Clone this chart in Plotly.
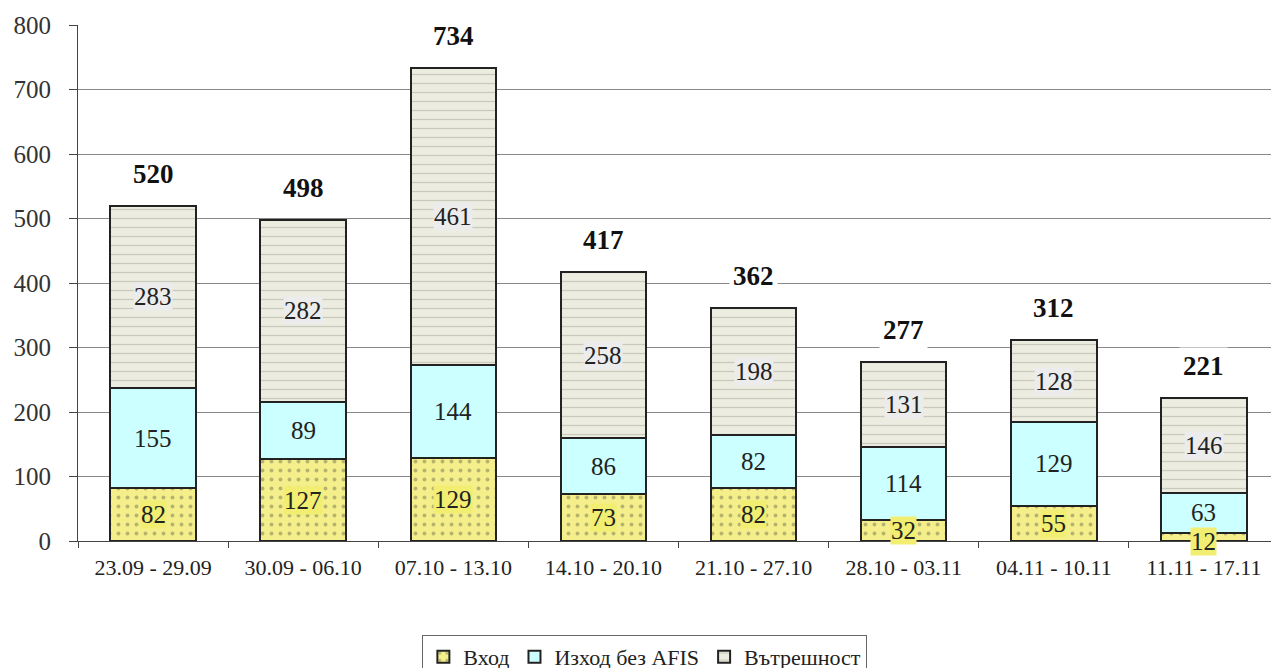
import plotly.graph_objects as go

categories = ["23.09 - 29.09", "30.09 - 06.10", "07.10 - 13.10", "14.10 - 20.10",
              "21.10 - 27.10", "28.10 - 03.11", "04.11 - 10.11", "11.11 - 17.11"]
vhod = [82, 127, 129, 73, 82, 32, 55, 12]
izhod = [155, 89, 144, 86, 82, 114, 129, 63]
vatr = [283, 282, 461, 258, 198, 131, 128, 146]
totals = [520, 498, 734, 417, 362, 277, 312, 221]
y_ticks = [0, 100, 200, 300, 400, 500, 600, 700, 800]

series = [
    ("Вход", vhod, "#f4ef8a", ".", "#777755", "#f1ee72"),
    ("Изход без AFIS", izhod, "#ccffff", "", "#000000", "#ccffff"),
    ("Вътрешност", vatr, "#ecece0", "-", "#a8a898", "#ececec"),
]

FONT = "Liberation Serif, Times New Roman, serif"
fig = go.Figure()
for name, vals, col, shape, fg, lblbg in series:
    fig.add_trace(go.Bar(
        name=name, x=categories, y=vals,
        marker=dict(color=col, line=dict(color="#222222", width=2),
                    pattern=dict(shape=shape, fgcolor=fg, bgcolor=col,
                                 size=9, solidity=0.15) if shape else None),
        width=0.57,
    ))

annotations = []
base = [0] * len(categories)
for name, vals, col, shape, fg, lblbg in series:
    for i, v in enumerate(vals):
        ypos = base[i] + v / 2 if v >= 20 else base[i]
        annotations.append(dict(
            x=categories[i], y=ypos, text=str(v), showarrow=False,
            font=dict(family=FONT, size=25, color="#222222"),
            bgcolor=lblbg, xref="x", yref="y", borderpad=0))
        base[i] += v
for i, t in enumerate(totals):
    annotations.append(dict(
        x=categories[i], y=t, text="<b>%d</b>" % t, showarrow=False, yshift=32,
        font=dict(family=FONT, size=27, color="#111111"),
        bgcolor="white", borderpad=3, xref="x", yref="y"))

fig.update_layout(
    barmode="stack",
    width=1271, height=700,
    margin=dict(l=70, r=0, t=17, b=167),
    plot_bgcolor="white", paper_bgcolor="white",
    font=dict(family=FONT, size=18, color="#222222"),
    showlegend=True,
    legend=dict(orientation="h", x=0.472, xanchor="center", y=-0.182, yanchor="top",
                bordercolor="#666666", borderwidth=1, font=dict(family=FONT, size=22),
                itemwidth=30, traceorder="normal"),
    annotations=annotations,
)
fig.update_xaxes(showline=True, linecolor="#444444", linewidth=1,
                 ticks="outside", tickson="boundaries", ticklen=6, tickcolor="#444444",
                 ticklabelstandoff=7,
                 tickfont=dict(family=FONT, size=22, color="#222222"))
fig.update_yaxes(range=[0, 800], tickvals=y_ticks, showgrid=True, gridcolor="#888888",
                 gridwidth=1, showline=True, linecolor="#444444", linewidth=1,
                 ticks="outside", ticklen=8, tickcolor="#444444", zeroline=False,
                 ticklabelstandoff=13,
                 tickfont=dict(family=FONT, size=25, color="#333333"))
fig.write_html("out.html")
